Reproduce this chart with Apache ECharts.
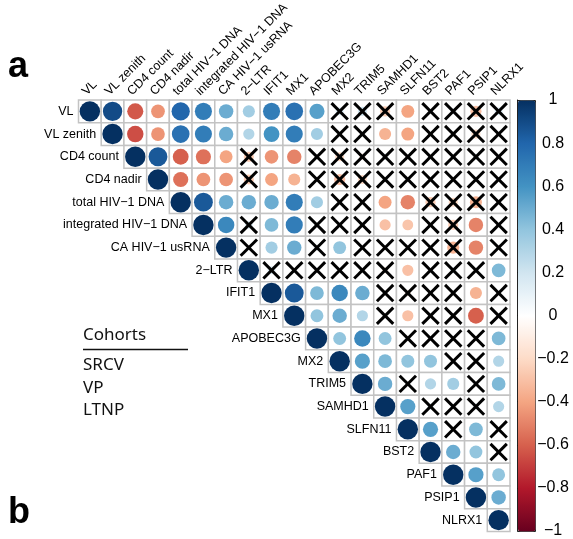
<!DOCTYPE html>
<html>
<head>
    <meta charset="utf-8">
    <title>corrplot</title>
    <script src="https://cdn.jsdelivr.net/npm/echarts@6/dist/echarts.min.js"></script>
    <style>
        html, body { margin: 0; padding: 0; background: #fff; }
        #main { width: 573px; height: 539px; }
    </style>
</head>
<body>
    <div id="main"></div>
    <script>
        var variables = ['VL', 'VL zenith', 'CD4 count', 'CD4 nadir', 'total HIV\u22121 DNA',
            'integrated HIV\u22121 DNA', 'CA HIV\u22121 usRNA', '2\u2212LTR', 'IFIT1', 'MX1', 'APOBEC3G',
            'MX2', 'TRIM5', 'SAMHD1', 'SLFN11', 'BST2', 'PAF1', 'PSIP1', 'NLRX1'];

        // upper triangle, row i starts at column i
        var corrRows = [
            [1, 0.9, -0.62, -0.45, 0.8, 0.7, 0.5, 0.35, 0.7, 0.75, 0.55, 0.15, 0.2, -0.25, -0.4, 0.05, 0.1, -0.3, 0.15],
            [1, -0.65, -0.45, 0.75, 0.7, 0.5, 0.3, 0.6, 0.7, 0.35, 0.05, 0.05, -0.35, -0.4, 0, 0, -0.2, 0.05],
            [1, 0.85, -0.6, -0.55, -0.4, -0.25, -0.45, -0.5, 0.05, -0.2, -0.1, 0.1, 0.05, 0, 0, 0.1, 0],
            [1, -0.55, -0.45, -0.45, -0.25, -0.4, -0.35, 0, -0.3, -0.2, 0, 0, 0, 0, 0, 0],
            [1, 0.85, 0.5, 0.5, 0.5, 0.7, 0.35, 0, 0, -0.4, -0.5, -0.25, -0.2, -0.35, 0],
            [1, 0.65, 0.15, 0.45, 0.7, 0, 0, 0, -0.3, -0.28, 0, -0.25, -0.5, 0],
            [1, 0, 0.35, 0.5, 0.1, 0.4, 0, 0, 0, 0, -0.35, -0.5, 0.05],
            [1, 0.15, 0.05, 0, 0, 0, -0.1, -0.3, 0, 0.1, 0, 0.45],
            [1, 0.85, 0.45, 0.65, 0.5, 0, -0.1, 0, 0, -0.35, 0],
            [1, 0.4, 0.5, 0.3, 0, -0.3, 0, 0, -0.6, 0],
            [1, 0.4, 0.65, 0.4, 0, 0, 0, 0, 0.45],
            [1, 0.55, 0.45, 0.4, 0.4, 0, 0, 0.3],
            [1, 0.5, 0.05, 0.3, 0.35, 0, 0.45],
            [1, 0.55, 0.1, 0, 0.1, 0.3],
            [1, 0.55, 0, 0.45, 0],
            [1, 0.5, 0.4, 0],
            [1, 0.55, 0.4],
            [1, 0.5],
            [1]
        ];

        // columns of each row that are not significant (crossed out)
        var crossed = [
            [11, 12, 13, 15, 16, 17, 18],
            [11, 12, 15, 16, 17, 18],
            [7, 10, 11, 12, 13, 14, 15, 16, 17, 18],
            [7, 10, 11, 12, 13, 14, 15, 16, 17, 18],
            [11, 12, 15, 16, 17, 18],
            [7, 10, 11, 12, 15, 16, 18],
            [7, 10, 12, 13, 14, 15, 16, 18],
            [8, 9, 10, 11, 12, 13, 15, 16, 17],
            [13, 14, 15, 16, 18],
            [13, 15, 16, 18],
            [14, 15, 16, 17],
            [16, 17],
            [14, 17],
            [15, 16, 17],
            [16, 18],
            [18],
            [],
            [],
            []
        ];

        var cohorts = ['SRCV', 'VP', 'LTNP'];
        var colorbarColors = ['#67001F', '#B2182B', '#D6604D', '#F4A582', '#FDDBC7', '#FFFFFF',
            '#D1E5F0', '#92C5DE', '#4393C3', '#2166AC', '#053061'];

        var cells = [];
        corrRows.forEach(function (row, i) {
            row.forEach(function (r, k) {
                var j = i + k;
                cells.push([j, i, r, crossed[i].indexOf(j) >= 0 ? 1 : 0]);
            });
        });

        var labelFont = { fontSize: 12.5, fontFamily: 'Liberation Sans', fill: '#000' };

        function renderCell(params, api) {
            var col = api.value(0), row = api.value(1);
            var c = api.coord([col, row]);
            var s = api.size([1, 1]);
            var w = s[0], h = s[1];
            var r = api.value(2);
            var kids = [{
                type: 'rect',
                shape: { x: c[0] - w / 2, y: c[1] - h / 2, width: w, height: h },
                style: { fill: '#fff', stroke: '#c3c3c3', lineWidth: 1.5 }
            }, {
                type: 'circle',
                shape: { cx: c[0], cy: c[1], r: 0.45 * w * Math.sqrt(Math.abs(r)) },
                style: { fill: api.visual('color') }
            }];
            if (api.value(3)) {
                var d = 0.36 * w;
                kids.push({
                    type: 'line',
                    shape: { x1: c[0] - d, y1: c[1] - d, x2: c[0] + d, y2: c[1] + d },
                    style: { stroke: '#000', lineWidth: 3 }
                });
                kids.push({
                    type: 'line',
                    shape: { x1: c[0] - d, y1: c[1] + d, x2: c[0] + d, y2: c[1] - d },
                    style: { stroke: '#000', lineWidth: 3 }
                });
            }
            // row names sit left of the diagonal
            if (col === row) {
                kids.push({
                    type: 'text',
                    x: c[0] - w / 2 - 5,
                    y: c[1],
                    style: Object.assign({ text: variables[row], align: 'right', verticalAlign: 'middle' }, labelFont)
                });
            }
            // column names above the first row, tilted 45 degrees
            if (row === 0) {
                kids.push({
                    type: 'text',
                    x: c[0] - 1,
                    y: c[1] - h / 2 - 2,
                    rotation: Math.PI / 4,
                    style: Object.assign({ text: variables[col], align: 'left', verticalAlign: 'bottom' }, labelFont)
                });
            }
            return { type: 'group', children: kids };
        }

        var myChart = echarts.init(document.getElementById('main'));
        var option = {
            animation: false,
            backgroundColor: '#fff',
            grid: [
                { left: 78.5, top: 100, width: 431.5, height: 431.5 },
                { left: 517.5, top: 100, width: 17.5, height: 431 }
            ],
            xAxis: [{
                gridIndex: 0,
                type: 'category',
                data: variables,
                show: false
            }, {
                gridIndex: 1,
                type: 'value',
                show: false
            }],
            yAxis: [{
                gridIndex: 0,
                type: 'category',
                inverse: true,
                data: variables,
                show: false
            }, {
                gridIndex: 1,
                type: 'value',
                position: 'right',
                min: -1,
                max: 1,
                interval: 0.2,
                splitLine: { show: false },
                axisLine: { show: true, lineStyle: { color: '#222', width: 1 } },
                axisTick: { show: true, length: 4, lineStyle: { color: '#000' } },
                axisLabel: {
                    margin: 18,
                    align: 'center',
                    fontSize: 16,
                    fontFamily: 'Liberation Sans',
                    color: '#000',
                    formatter: function (v) {
                        return String(Math.round(v * 10) / 10).replace('-', '\u2212');
                    }
                }
            }],
            visualMap: {
                type: 'continuous',
                seriesIndex: 0,
                dimension: 2,
                min: -1,
                max: 1,
                calculable: false,
                left: 517.5,
                top: 100,
                itemWidth: 17.5,
                itemHeight: 431,
                padding: 0,
                text: ['', ''],
                borderColor: '#222',
                borderWidth: 1,
                inRange: { color: colorbarColors }
            },
            graphic: [
                { type: 'text', left: 8, top: 49, style: { text: 'a', font: 'bold 36px Liberation Sans', fill: '#000' } },
                { type: 'text', left: 8, top: 495, style: { text: 'b', font: 'bold 36px Liberation Sans', fill: '#000' } },
                { type: 'text', left: 83, top: 327, style: { text: 'Cohorts', font: '17px Noto Sans', fill: '#111' } },
                { type: 'line', shape: { x1: 83, y1: 349.5, x2: 188, y2: 349.5 }, style: { stroke: '#111', lineWidth: 1.5 } },
                { type: 'text', left: 83, top: 357, style: { text: cohorts[0], font: '17px Noto Sans', fill: '#111' } },
                { type: 'text', left: 83, top: 380, style: { text: cohorts[1], font: '17px Noto Sans', fill: '#111' } },
                { type: 'text', left: 83, top: 402, style: { text: cohorts[2], font: '17px Noto Sans', fill: '#111' } }
            ],
            series: [{
                type: 'custom',
                xAxisIndex: 0,
                yAxisIndex: 0,
                renderItem: renderCell,
                data: cells
            }]
        };
        option && myChart.setOption(option);
    </script>
</body>
</html>
